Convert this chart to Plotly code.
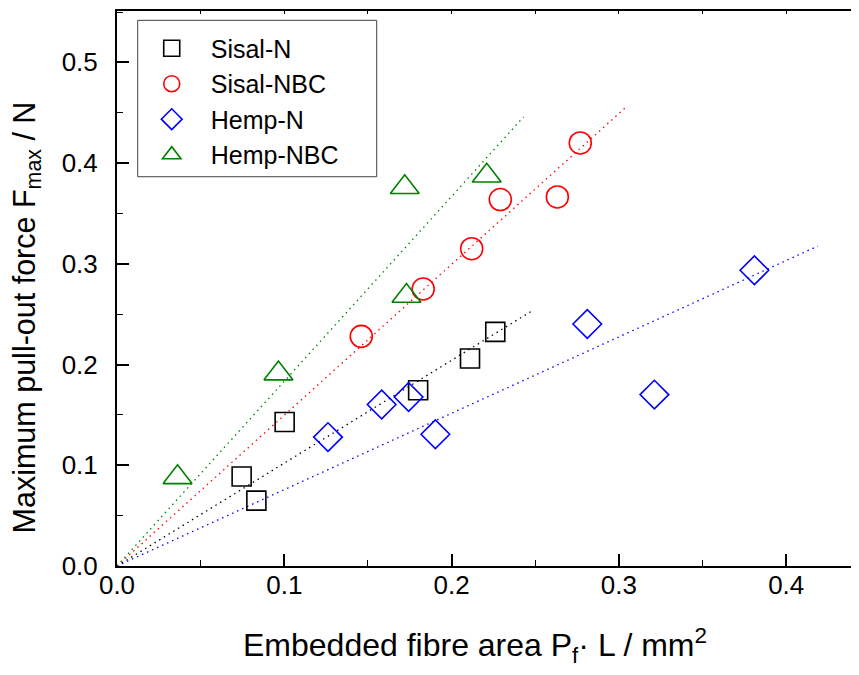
import numpy as np
import plotly.graph_objects as go

# ---- data ----
sisal_n_x = [0.0745, 0.0833, 0.1002, 0.180, 0.211, 0.2261]
sisal_n_y = [0.0888, 0.0649, 0.1430, 0.1745, 0.206, 0.2324]

sisal_nbc_x = [0.146, 0.183, 0.212, 0.2291, 0.2632, 0.2769]
sisal_nbc_y = [0.228, 0.275, 0.315, 0.3638, 0.3664, 0.420]

hemp_n_x = [0.1261, 0.1582, 0.1743, 0.1903, 0.2811, 0.3212, 0.381]
hemp_n_y = [0.128, 0.1603, 0.1678, 0.1308, 0.2403, 0.1702, 0.2936]

hemp_nbc_x = [0.0362, 0.0965, 0.172, 0.173, 0.221]
hemp_nbc_y = [0.088, 0.191, 0.376, 0.268, 0.3875]

series_names = ["Sisal-N", "Sisal-NBC", "Hemp-N", "Hemp-NBC"]
fit_x_end = [0.248, 0.305, 0.419, 0.243]  # extent of each fitted line

x_ticks = [0.0, 0.1, 0.2, 0.3, 0.4]
y_ticks = [0.0, 0.1, 0.2, 0.3, 0.4, 0.5]

# ---- styles ----
colors = ["#000000", "#FF0000", "#0000FF", "#008000"]
symbols = ["square-open", "circle-open", "diamond-open", "triangle-up-open"]
sizes = [19, 22, 22, 25]
FONT = "Arial, 'Liberation Sans', sans-serif"

data = [(sisal_n_x, sisal_n_y), (sisal_nbc_x, sisal_nbc_y),
        (hemp_n_x, hemp_n_y), (hemp_nbc_x, hemp_nbc_y)]

fig = go.Figure()

# fitted lines through origin (least squares)
for (xs, ys), c, xe in zip(data, colors, fit_x_end):
    xs_a, ys_a = np.array(xs), np.array(ys)
    slope = float((xs_a * ys_a).sum() / (xs_a ** 2).sum())
    fx = [0.0, xe]
    fy = [0.0, slope * xe]
    fig.add_trace(go.Scatter(x=fx, y=fy, mode="lines", showlegend=False,
                             line=dict(color=c, width=1.3, dash="1.5px,4px"),
                             hoverinfo="skip"))

for (xs, ys), name, c, s, sz in zip(data, series_names, colors, symbols, sizes):
    fig.add_trace(go.Scatter(x=xs, y=ys, mode="markers", name=name,
                             marker=dict(symbol=s, size=sz, color=c,
                                         line=dict(color=c, width=1.6))))

# helper trace for the top axis (short ticks)
fig.add_trace(go.Scatter(x=[None], y=[None], xaxis="x2", showlegend=False,
                         hoverinfo="skip"))

XR = [0, 0.4435]
YR = [0, 0.551]

axis_common = dict(showgrid=False, zeroline=False, showline=True,
                   linecolor="black", linewidth=2, ticks="inside",
                   ticklen=12, tickwidth=2, tickcolor="black",
                   tickfont=dict(family=FONT, size=26, color="black"),
                   minor=dict(ticks="inside", ticklen=6, tickwidth=1.3,
                              tickcolor="black", dtick=0.05, tick0=0))

# the page body adds an 8px offset, so the figure is sized to fill the rest
fig.update_layout(
    width=851, height=667,
    margin=dict(l=109, r=0, t=3, b=109),
    paper_bgcolor="white", plot_bgcolor="white",
    font=dict(family=FONT, color="black"),
    xaxis=dict(range=XR, tickmode="array", tickvals=x_ticks,
               ticktext=[f"{v:.1f}" for v in x_ticks], mirror=True,
               ticklabelstandoff=-5, **axis_common),
    yaxis=dict(range=YR, tickmode="array", tickvals=y_ticks,
               ticktext=[f"{v:.1f}" for v in y_ticks], mirror=False,
               ticklabelstandoff=12, **axis_common),
    xaxis2=dict(range=XR, overlaying="x", side="top", anchor="y",
                showgrid=False, zeroline=False, showline=False,
                showticklabels=False, ticks="inside", ticklen=3,
                tickwidth=1, tickcolor="black", tick0=0, dtick=0.05),
    legend=dict(x=0.0212, y=0.974, xanchor="left", yanchor="top",
                bgcolor="rgba(0,0,0,0)", borderwidth=0, itemwidth=68,
                font=dict(family=FONT, size=25, color="black")),
    showlegend=True,
    shapes=[dict(type="rect", xref="paper", yref="paper",
                 x0=0.0279, x1=0.35, y0=0.7014, y1=0.9832,
                 line=dict(color="#404040", width=1), layer="below")],
    annotations=[
        dict(text="Embedded fibre area P<sub>f</sub>· L / mm<sup>2</sup>",
             xref="paper", yref="paper", x=0.4825, y=-0.0985,
             xanchor="center", yanchor="top", showarrow=False,
             font=dict(family=FONT, size=32, color="black")),
        dict(text="Maximum pull-out force F<sub>max</sub> / N",
             xref="paper", yref="paper", x=-0.1225, y=0.448,
             xanchor="center", yanchor="middle", textangle=-90,
             showarrow=False,
             font=dict(family=FONT, size=30.5, color="black")),
    ],
)

fig.write_html("out.html")
